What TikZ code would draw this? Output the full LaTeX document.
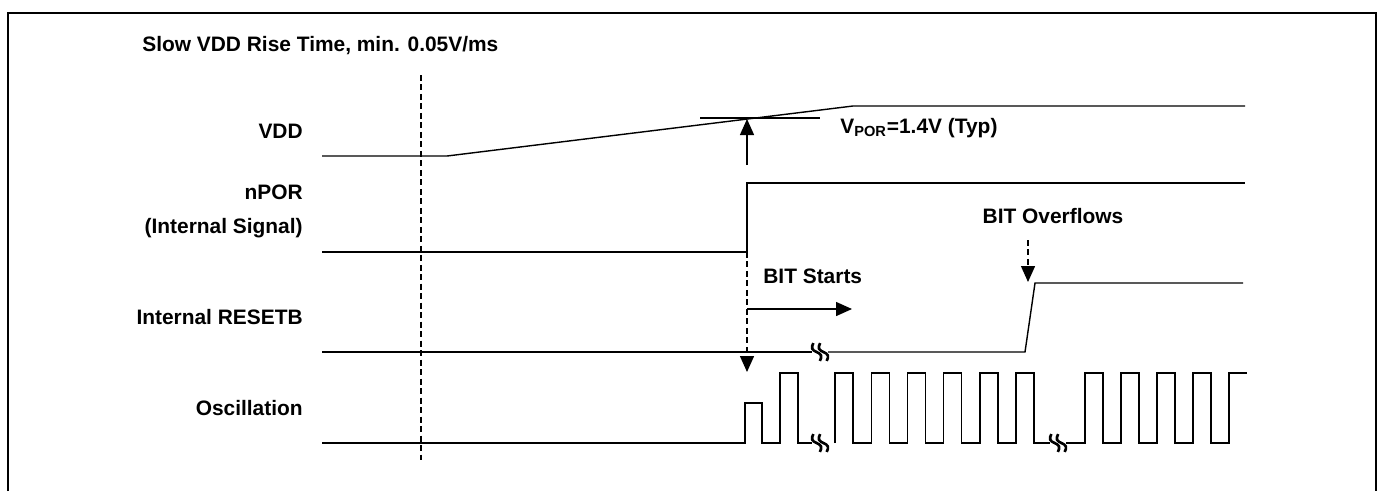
\documentclass[tikz,border=0pt]{standalone}
\usepackage{fontspec}
\setmainfont{Liberation Sans}
\usetikzlibrary{arrows.meta}
\tikzstyle{sig}=[line width=0.8pt,line join=miter]
\tikzstyle{dsh}=[line width=0.8pt,dash pattern=on 3.4pt off 2pt]
\tikzstyle{arr}=[-{Triangle[length=3.2mm,width=2.8mm]},line width=0.8pt]
\tikzstyle{lbl}=[font=\fontsize{11.9}{14}\selectfont\bfseries,inner sep=0pt]
\tikzset{brk/.pic={
  \foreach \d in {-3.4,3.4}
    \draw[line width=1.5pt,shift={(\d,0)},rotate=-70]
      (-9.5,0) sin (-4.75,3) cos (0,0) sin (4.75,-3) cos (9.5,0);
}}

\begin{document}
\begin{tikzpicture}[x=0.02cm,y=-0.02cm]
  \useasboundingbox (0,0) rectangle (1381,491);
  \draw[line width=1pt] (8,491) -- (8,13) -- (1376,13) -- (1376,491);

  % labels
  \node[lbl,anchor=base west] (title) at (142,51) {Slow VDD Rise Time, min. 0.05V/ms};
  \node[lbl,anchor=base east] (vdd) at (303,138) {VDD};
  \node[lbl,anchor=base east] (npor) at (303,199) {nPOR};
  \node[lbl,anchor=base east] (intsig) at (303,233) {(Internal Signal)};
  \node[lbl,anchor=base east] (rstb) at (303,324) {Internal RESETB};
  \node[lbl,anchor=base east] (osc) at (303,415) {Oscillation};
  \node[lbl,anchor=base west] (vpor) at (840,133) {V\textsubscript{POR}=1.4V (Typ)};
  \node[lbl,anchor=base west] (bits) at (763,283) {BIT Starts};
  \node[lbl,anchor=base] (bito) at (1053,223) {BIT Overflows};

  % slow rise marker
  \coordinate (mk0) at (421,75);
  \coordinate (mk1) at (421,460);
  \draw[dsh] (mk0) -- (mk1);

  % waveforms
  \draw[sig] (322,156) -- (447,156) -- (853,106) -- (1245,106);
  \draw[sig] (700,118) -- (820,118);
  \draw[sig] (322,252) -- (747,252) -- (747,183) -- (1245,183);
  \draw[sig] (322,352) -- (812,352);
  \draw[sig] (828,352) -- (1025,352) -- (1035,283) -- (1243,283);
  \draw[sig] (322,443) -- (745,443) -- (745,403) -- (762,403) -- (762,443)
    -- (780,443) -- (780,373) -- (798,373) -- (798,443) -- (812,443);
  \draw[sig] (835,443) \foreach \r in {835,871.2,907.4,943.6,979.8,1016}
    { -- (\r,443) -- (\r,373) -- (\r+18,373) -- (\r+18,443) } -- (1050,443);
  \draw[sig] (1066,443) \foreach \r in {1085,1121,1157,1193}
    { -- (\r,443) -- (\r,373) -- (\r+18,373) -- (\r+18,443) }
    -- (1229,443) -- (1229,373) -- (1247,373);
  \pic at (820,352) {brk};
  \pic at (820,443) {brk};
  \pic at (1058,443) {brk};

  % arrows
  \coordinate (up0) at (747,165);
  \coordinate (up1) at (747,119);
  \draw[arr] (up0) -- (up1);
  \coordinate (rise) at (747,252);
  \coordinate (oscon) at (747,372);
  \draw[arr,dsh] (rise) -- (oscon);
  \coordinate (bit0) at (747,309);
  \coordinate (bit1) at (852,309);
  \draw[arr] (bit0) -- (bit1);
  \coordinate (ovf0) at (1028,240);
  \coordinate (ovf1) at (1028,282);
  \draw[arr,dsh] (ovf0) -- (ovf1);
\end{tikzpicture}
\end{document}
